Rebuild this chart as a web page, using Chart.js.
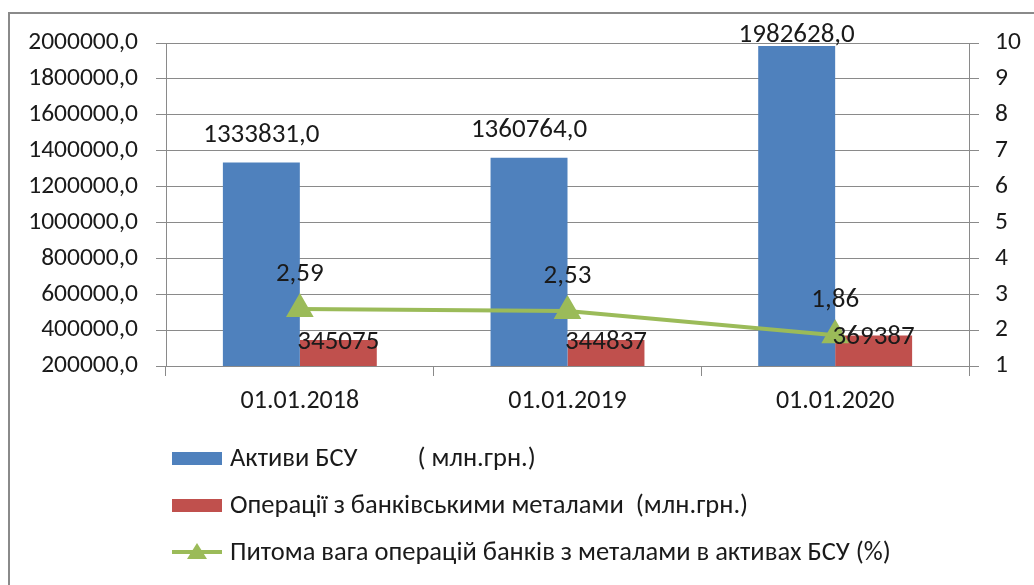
<!DOCTYPE html>
<html>
<head>
<meta charset="utf-8">
<script src="https://cdn.jsdelivr.net/npm/chart.js@4/dist/chart.umd.min.js"></script>
<style>
    html, body { margin: 0; padding: 0; background: #fff; overflow: hidden; }
    #wrap { position: relative; width: 1034px; height: 585px; }
    #frame { position: absolute; left: 8px; top: 12px; width: 1100px; height: 700px; border: 2px solid #8a8a8a; }
    #chart { position: absolute; left: 0; top: 0; }
</style>
</head>
<body>
<div id="wrap">
    <div id="frame"></div>
    <canvas id="chart" width="1034" height="585"></canvas>
</div>
<script>
const categories = ['01.01.2018', '01.01.2019', '01.01.2020'];
const assets = [1333831.0, 1360764.0, 1982628.0];
const metals = [345075, 344837, 369387];
const share = [2.59, 2.53, 1.86];
const seriesNames = [
    'Активи БСУ          ( млн.грн.)',
    'Операції з банківськими металами  (млн.грн.)',
    'Питома вага операцій банків з металами в активах БСУ (%)'
];

const FONT = "Carlito, 'Liberation Sans', Arial, sans-serif";
const BLUE = '#4F81BD';
const RED = '#C0504D';
const GREEN = '#9BBB59';
const GRID = '#8a8a8a';
const TEXT = '#1a1a1a';

const comma = (v, d) => v.toFixed(d).replace('.', ',');

// value labels drawn on top of everything
const valueLabels = {
    id: 'valueLabels',
    afterDatasetsDraw(chart) {
        const ctx = chart.ctx;
        const top = chart.chartArea.top;
        ctx.save();
        ctx.fillStyle = TEXT;
        ctx.textAlign = 'center';
        ctx.textBaseline = 'middle';
        ctx.font = '27px ' + FONT;
        chart.data.datasets.forEach((ds, i) => {
            const meta = chart.getDatasetMeta(i);
            meta.data.forEach((el, j) => {
                const v = ds.data[j];
                if (ds.type === 'line') {
                    ctx.fillText(comma(v, 2), el.x, el.y - 35);
                } else if (i === 0) {
                    // keep label from leaving the plot (like Excel does)
                    ctx.fillText(comma(v, 1), el.x, Math.max(el.y - 27, top - 8));
                } else {
                    ctx.fillText(String(v), el.x, el.y + 2);
                }
            });
        });
        ctx.restore();
    }
};

// vertical legend at the bottom left
const stackedLegend = {
    id: 'stackedLegend',
    afterDraw(chart) {
        const ctx = chart.ctx;
        const rows = [458, 505, 552];
        ctx.save();
        ctx.font = '26.5px ' + FONT;
        ctx.textBaseline = 'middle';
        ctx.fillStyle = TEXT;
        chart.data.datasets.forEach((ds, i) => {
            const y = rows[i];
            if (ds.type === 'line') {
                ctx.strokeStyle = ds.borderColor;
                ctx.lineWidth = 4;
                ctx.beginPath();
                ctx.moveTo(172, y);
                ctx.lineTo(222, y);
                ctx.stroke();
                ctx.fillStyle = ds.borderColor;
                ctx.beginPath();
                ctx.moveTo(197, y - 9);
                ctx.lineTo(207, y + 7);
                ctx.lineTo(187, y + 7);
                ctx.closePath();
                ctx.fill();
            } else {
                ctx.fillStyle = ds.backgroundColor;
                ctx.fillRect(172, y - 6, 50, 13);
            }
            ctx.fillStyle = TEXT;
            ctx.fillText(ds.label, 230, y + 1);
        });
        ctx.restore();
    }
};

new Chart(document.getElementById('chart'), {
    data: {
        labels: categories,
        datasets: [
            { type: 'bar', label: seriesNames[0], data: assets, backgroundColor: BLUE, yAxisID: 'y', order: 2 },
            { type: 'bar', label: seriesNames[1], data: metals, backgroundColor: RED, yAxisID: 'y', order: 2 },
            {
                type: 'line', label: seriesNames[2], data: share, yAxisID: 'y1', order: 0,
                borderColor: GREEN, backgroundColor: GREEN, borderWidth: 4,
                pointStyle: 'triangle', pointRadius: 12, pointBackgroundColor: GREEN, pointBorderColor: GREEN
            }
        ]
    },
    options: {
        responsive: false,
        animation: false,
        layout: { padding: { top: 43, right: 0, left: 0, bottom: 0 } },
        datasets: { bar: { barPercentage: 1, categoryPercentage: 0.575 } },
        plugins: { legend: { display: false }, tooltip: { enabled: false } },
        scales: {
            x: {
                grid: { offset: true, drawOnChartArea: false, tickLength: 10, color: GRID },
                border: { color: GRID },
                ticks: { color: TEXT, font: { family: FONT, size: 26 }, padding: 10 },
                afterFit: s => { s.height = 585 - 366; }
            },
            y: {
                position: 'left', min: 200000, max: 2000000,
                grid: { color: GRID, tickLength: 10 },
                border: { color: GRID },
                ticks: { stepSize: 200000, color: TEXT, font: { family: FONT, size: 25.5 }, padding: 18, callback: v => comma(v, 1) },
                afterFit: s => { s.width = 166; }
            },
            y1: {
                position: 'right', min: 1, max: 10,
                grid: { drawOnChartArea: false, tickLength: 10, color: GRID },
                border: { color: GRID },
                ticks: { stepSize: 1, color: TEXT, font: { family: FONT, size: 25.5 }, padding: 16 },
                afterFit: s => { s.width = 1034 - 969; }
            }
        }
    },
    plugins: [valueLabels, stackedLegend]
});
</script>
</body>
</html>
